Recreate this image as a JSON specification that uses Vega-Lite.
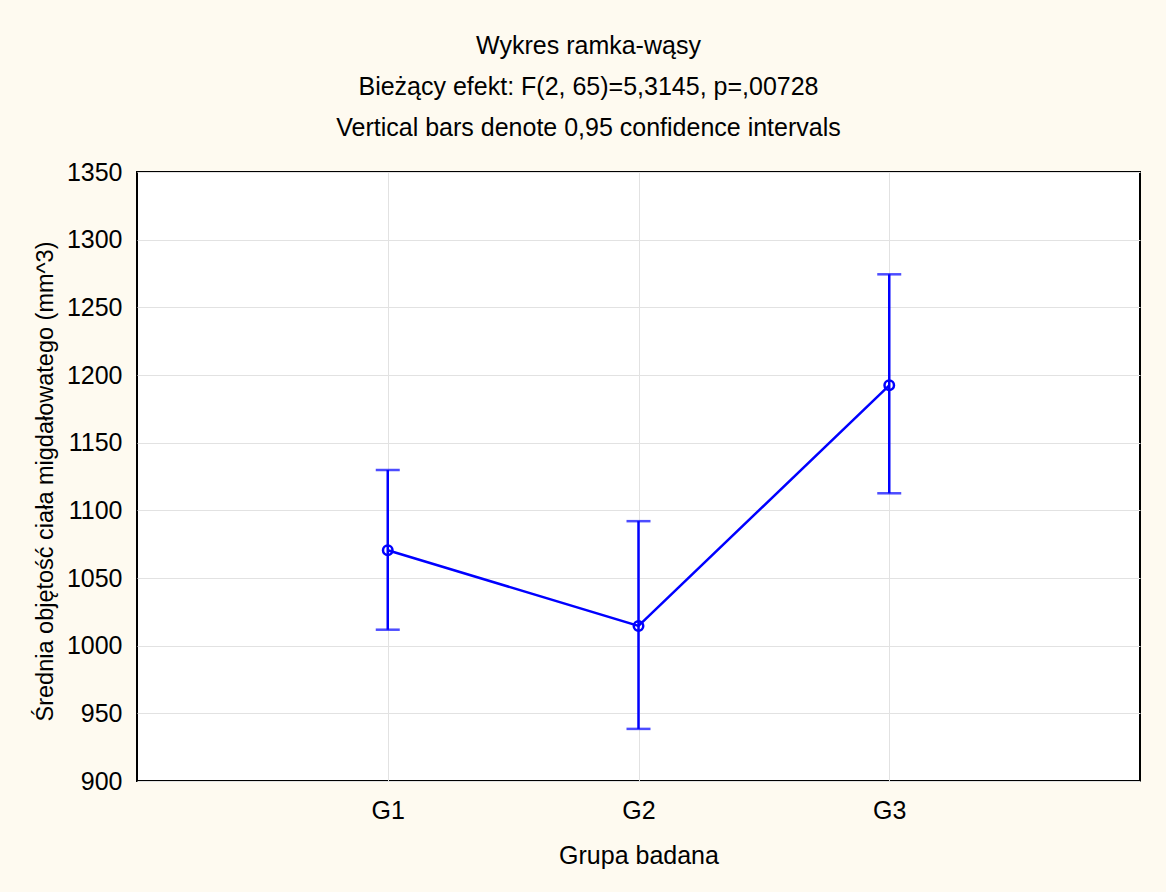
{
  "$schema": "https://vega.github.io/schema/vega-lite/v6.json",
  "width": 1003,
  "height": 609,
  "autosize": {"type": "none"},
  "padding": {"left": 137, "top": 172, "right": 26, "bottom": 111},
  "background": "#FEFAF0",
  "config": {
    "font": "Liberation Sans",
    "view": {"fill": "white", "stroke": "black", "strokeWidth": 2},
    "axis": {
      "labelFontSize": 25,
      "titleFontSize": 25,
      "titleFontWeight": "normal",
      "labelColor": "black",
      "titleColor": "black",
      "gridColor": "#e2e2e2",
      "gridWidth": 1,
      "ticks": false,
      "domain": false
    }
  },
  "title": {
    "text": ["Wykres ramka-wąsy", "Bieżący efekt: F(2, 65)=5,3145, p=,00728", "Vertical bars denote 0,95 confidence intervals"],
    "fontSize": 25,
    "fontWeight": "normal",
    "color": "black",
    "lineHeight": 41,
    "anchor": "middle",
    "dx": -50,
    "offset": 19
  },
  "data": {
    "values": [
      {"grupa": "G1", "mean": 1070.5, "lo": 1011.8, "hi": 1129.8},
      {"grupa": "G2", "mean": 1014.6, "lo": 938.5, "hi": 1092.0},
      {"grupa": "G3", "mean": 1192.4, "lo": 1112.6, "hi": 1274.4}
    ]
  },
  "encoding": {
    "x": {
      "field": "grupa",
      "type": "nominal",
      "scale": {"type": "point", "padding": 1, "domain": ["G1", "G2", "G3"]},
      "axis": {"title": "Grupa badana", "labelAngle": 0, "grid": true, "labelPadding": 17, "titlePadding": 20}
    }
  },
  "layer": [
    {
      "mark": {"type": "rule", "color": "#0000FF", "strokeWidth": 2.5},
      "encoding": {
        "y": {
          "field": "lo",
          "type": "quantitative",
          "scale": {"domain": [900, 1350], "nice": false, "zero": false},
          "axis": {
            "title": "Średnia objętość ciała migdałowatego (mm^3)",
            "values": [900, 950, 1000, 1050, 1100, 1150, 1200, 1250, 1300, 1350],
            "format": "d",
            "grid": true,
            "labelPadding": 15,
            "titlePadding": 9,
            "titleFontSize": 23.5,
            "titleY": 309
          }
        },
        "y2": {"field": "hi"}
      }
    },
    {
      "mark": {"type": "tick", "color": "#0000FF", "size": 24, "thickness": 2.5, "orient": "horizontal"},
      "encoding": {"y": {"field": "lo", "type": "quantitative"}}
    },
    {
      "mark": {"type": "tick", "color": "#0000FF", "size": 24, "thickness": 2.5, "orient": "horizontal"},
      "encoding": {"y": {"field": "hi", "type": "quantitative"}}
    },
    {
      "mark": {"type": "line", "color": "#0000FF", "strokeWidth": 2.5},
      "encoding": {"y": {"field": "mean", "type": "quantitative"}}
    },
    {
      "mark": {"type": "point", "color": "#0000FF", "filled": false, "size": 90, "strokeWidth": 2.5, "opacity": 1},
      "encoding": {"y": {"field": "mean", "type": "quantitative"}}
    }
  ]
}
